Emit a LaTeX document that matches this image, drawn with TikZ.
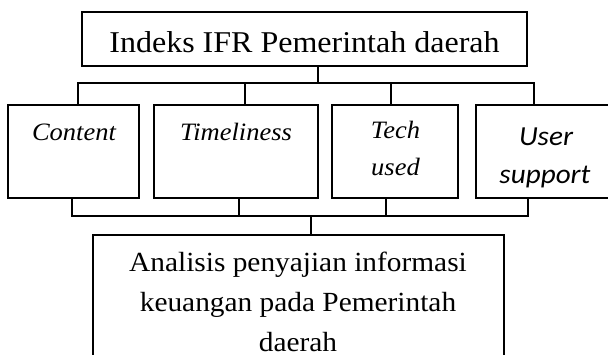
\documentclass[tikz,border=0pt]{standalone}
\usepackage{fontspec}
\setmainfont{Liberation Serif}
\newfontfamily\calfont{Carlito}
\usepackage{graphicx}
\newcommand\hstr[1]{\scalebox{1.06}[1]{#1}}
\tikzset{
  box/.style={draw=black, line width=1.7pt, rectangle, inner sep=0pt},
  conn/.style={draw=black, line width=1.7pt},
  bigtxt/.style={inner sep=0pt, anchor=base, font=\fontsize{30.2}{35}\selectfont},
  midtxt/.style={inner sep=0pt, anchor=base, font=\fontsize{27.7}{33}\selectfont},
  ittxt/.style={inner sep=0pt, anchor=base, font=\fontsize{25}{29}\selectfont\itshape},
  caltxt/.style={inner sep=0pt, anchor=base, font=\fontsize{27.5}{32}\selectfont\calfont\itshape},
}
\begin{document}
\begin{tikzpicture}[x=1pt,y=-1pt]
\path[use as bounding box] (0,0) rectangle (608,354);
\clip (0,0) rectangle (608,354);
\fill[white] (0,0) rectangle (608,354);
% boxes
\node[box, minimum width=445pt, minimum height=54pt] (top) at (304.5,39) {};
\node[box, minimum width=131pt, minimum height=93pt] (content) at (73.5,151.5) {};
\node[box, minimum width=164pt, minimum height=93pt] (timeliness) at (236,151.5) {};
\node[box, minimum width=126pt, minimum height=93pt] (tech) at (395,151.5) {};
\node[box, minimum width=139pt, minimum height=93pt] (user) at (545.5,151.5) {};
\node[box, minimum width=411pt, minimum height=140pt] (bottom) at (298.5,305) {};
% texts
\node[bigtxt] (toplbl) at (304.5,52.3) {\hstr{Indeks IFR Pemerintah daerah}};
\node[ittxt] (contentlbl) at (74,140) {\hstr{Content}};
\node[ittxt] (timelbl) at (236,140) {\hstr{Timeliness}};
\node[ittxt] (techlbl) at (395.5,138) {\hstr{Tech}};
\node[ittxt] (usedlbl) at (395.5,175) {\hstr{used}};
\node[caltxt] (userlbl) at (546,145) {\hstr{User}};
\node[caltxt] (supportlbl) at (545,183) {\hstr{support}};
\node[midtxt] (b1) at (298,271.7) {\hstr{Analisis penyajian informasi}};
\node[midtxt] (b2) at (298,311.7) {\hstr{keuangan pada Pemerintah}};
\node[midtxt] (b3) at (298,351.7) {\hstr{daerah}};
% upper connectors
\coordinate (stemT) at (318,83);
\coordinate (ubL) at (78,83);
\coordinate (ubR) at (534,83);
\coordinate (ud2) at (245,83);
\coordinate (ud3) at (391,83);
\draw[conn] (stemT |- top.south) -- (stemT);
\draw[conn] (ubL |- content.north) -- (ubL) -- (ubR) -- (ubR |- user.north);
\draw[conn] (ud2) -- (ud2 |- timeliness.north);
\draw[conn] (ud3) -- (ud3 |- tech.north);
% lower connectors
\coordinate (lbL) at (72,216);
\coordinate (lbR) at (528,216);
\coordinate (ld2) at (239,216);
\coordinate (ld3) at (386,216);
\coordinate (stemB) at (311,216);
\draw[conn] (lbL |- content.south) -- (lbL) -- (lbR) -- (lbR |- user.south);
\draw[conn] (ld2 |- timeliness.south) -- (ld2);
\draw[conn] (ld3 |- tech.south) -- (ld3);
\draw[conn] (stemB) -- (stemB |- bottom.north);
\end{tikzpicture}
\end{document}
